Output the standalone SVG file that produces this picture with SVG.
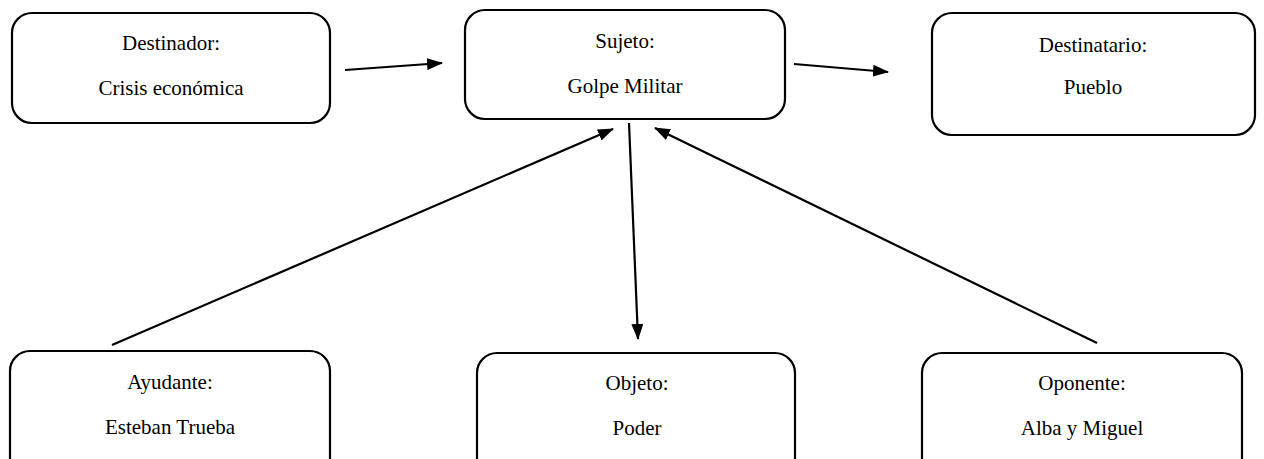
<svg xmlns="http://www.w3.org/2000/svg" width="1264" height="459" viewBox="0 0 1264 459">
<style>
.box{fill:#fff;stroke:#000;stroke-width:2.2}
.t{font-family:"Liberation Serif","Times New Roman",serif;font-size:21px;fill:#000;text-anchor:middle}
.c{stroke:#000;stroke-width:2.2;fill:none}
</style>
<defs>
<marker id="ah" markerUnits="userSpaceOnUse" markerWidth="16" markerHeight="12" viewBox="0 0 16 12" refX="15" refY="6" orient="auto">
<path d="M0,0 L16,6 L0,12 z" fill="#000"/>
</marker>
</defs>
<rect width="1264" height="459" fill="#fff"/>
<g id="destinador">
<rect class="box" x="12" y="13" width="318" height="110" rx="20"/>
<text class="t" x="171" y="50">Destinador:</text>
<text class="t" x="171" y="95">Crisis económica</text>
</g>
<g id="sujeto">
<rect class="box" x="465" y="10" width="320" height="109" rx="20"/>
<text class="t" x="625" y="48">Sujeto:</text>
<text class="t" x="625" y="93">Golpe Militar</text>
</g>
<g id="destinatario">
<rect class="box" x="932" y="13" width="323" height="122" rx="20"/>
<text class="t" x="1093" y="52">Destinatario:</text>
<text class="t" x="1093" y="94">Pueblo</text>
</g>
<g id="ayudante">
<rect class="box" x="10" y="351" width="320" height="130" rx="20"/>
<text class="t" x="170" y="389">Ayudante:</text>
<text class="t" x="170" y="434">Esteban Trueba</text>
</g>
<g id="objeto">
<rect class="box" x="477" y="353" width="318" height="130" rx="20"/>
<text class="t" x="637" y="390">Objeto:</text>
<text class="t" x="637" y="435">Poder</text>
</g>
<g id="oponente">
<rect class="box" x="922" y="353" width="320" height="130" rx="20"/>
<text class="t" x="1082" y="390">Oponente:</text>
<text class="t" x="1082" y="435">Alba y Miguel</text>
</g>
<g id="connectors">
<line class="c" x1="345" y1="70" x2="442" y2="63" marker-end="url(#ah)"/>
<line class="c" x1="794" y1="64" x2="888" y2="72" marker-end="url(#ah)"/>
<line class="c" x1="629" y1="123" x2="638" y2="339" marker-end="url(#ah)"/>
<line class="c" x1="112" y1="345" x2="613" y2="129" marker-end="url(#ah)"/>
<line class="c" x1="1097" y1="343" x2="655" y2="128" marker-end="url(#ah)"/>
</g>
</svg>
